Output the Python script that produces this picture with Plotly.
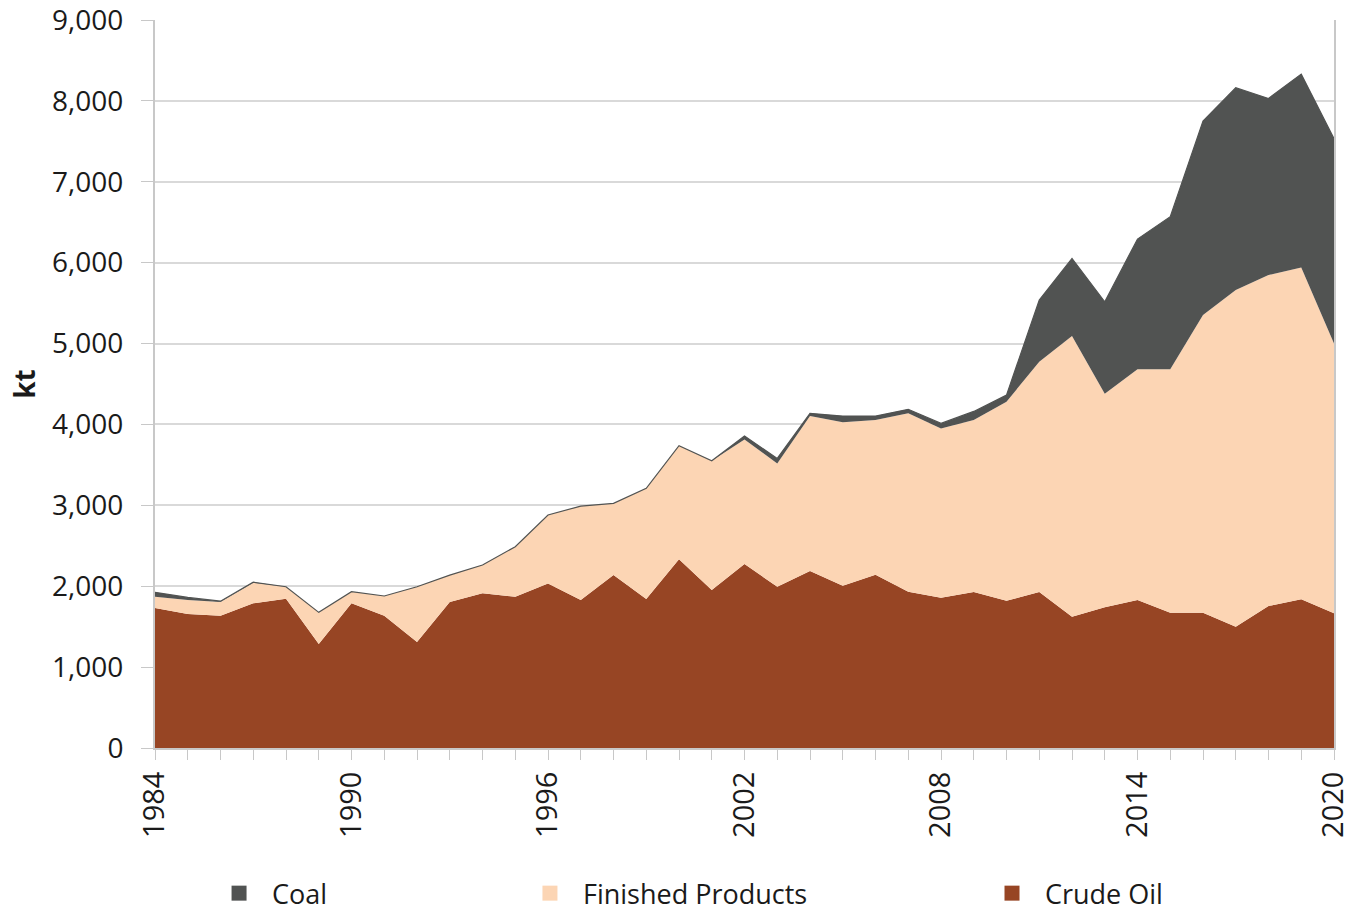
import plotly.graph_objects as go

years = list(range(1984, 2021))

crude_oil = [1730, 1656, 1635, 1789, 1846, 1286, 1789, 1636, 1310, 1805,
             1912, 1871, 2035, 1829, 2138, 1842, 2332, 1953, 2274, 1994,
             2188, 2006, 2143, 1932, 1858, 1928, 1821, 1928, 1623, 1739,
             1829, 1673, 1673, 1500, 1755, 1838, 1665]

finished_products = [141, 174, 170, 255, 148, 391, 143, 243, 684, 333,
                     350, 617, 845, 1162, 886, 1368, 1405, 1598, 1541, 1524,
                     1916, 2020, 1911, 2205, 2093, 2126, 2460, 2847, 3470, 2640,
                     2852, 3008, 3679, 4161, 4092, 4103, 3337]

coal = [53, 32, 10, 6, 0, 0, 0, 0, 0, 0,
        0, 0, 0, 0, 0, 0, 0, 0, 42, 62,
        33, 78, 50, 50, 62, 107, 82, 763, 960, 1138,
        1611, 1887, 2398, 2501, 2183, 2390, 2531]

series_names = ["Crude Oil", "Finished Products", "Coal"]
colors = {"Crude Oil": "#974524", "Finished Products": "#FCD5B4", "Coal": "#515352"}

tick_years = years
tick_labels = [str(y) if (y - 1984) % 6 == 0 else "" for y in years]
y_ticks = [0, 1000, 2000, 3000, 4000, 5000, 6000, 7000, 8000, 9000]

fig = go.Figure()

data = {"Crude Oil": crude_oil, "Finished Products": finished_products, "Coal": coal}
for name in series_names:
    fig.add_trace(go.Scatter(
        x=years, y=data[name], name=name, stackgroup="one", mode="lines",
        line=dict(width=1.2 if name == "Coal" else 0, color=colors[name]),
        fillcolor=colors[name], showlegend=False, hoverinfo="x+y+name"))

# legend entries (one legend per item, positioned like the reference)
legend_pos = {"Coal": ("legend", 0.0433), "Finished Products": ("legend2", 0.3070),
              "Crude Oil": ("legend3", 0.6989)}
for name in ["Coal", "Finished Products", "Crude Oil"]:
    lg, _ = legend_pos[name]
    fig.add_trace(go.Scatter(
        x=[None], y=[None], name=name, mode="markers",
        marker=dict(symbol="square", size=15, color=colors[name]),
        legend=lg, showlegend=True))

leg_common = dict(y=-0.2, yanchor="middle", xanchor="left", orientation="h",
                  bgcolor="rgba(0,0,0,0)", itemwidth=56,
                  font=dict(family="Open Sans", size=27, color="#1a1a1a"))

fig.update_layout(
    width=1346, height=908,
    margin=dict(l=155, r=12, t=20, b=160, autoexpand=False),
    paper_bgcolor="white", plot_bgcolor="white",
    legend=dict(x=legend_pos["Coal"][1], **leg_common),
    legend2=dict(x=legend_pos["Finished Products"][1], **leg_common),
    legend3=dict(x=legend_pos["Crude Oil"][1], **leg_common),
    xaxis=dict(range=[1984, 2020], tickmode="array", tickvals=tick_years,
               ticktext=tick_labels, tickangle=-90, ticks="outside", ticklen=10,
               tickcolor="#C8C8C8", showline=True, linecolor="#C8C8C8", linewidth=2,
               showgrid=False, zeroline=False, automargin=False,
               ticklabeloverflow="allow",
               tickfont=dict(family="Open Sans", size=29, color="#1a1a1a")),
    yaxis=dict(range=[0, 9000], tickmode="array", tickvals=y_ticks,
               tickformat=",", ticks="outside",
               ticklen=12, tickcolor="#C8C8C8", showline=True, linecolor="#C8C8C8",
               linewidth=2, mirror=True, gridcolor="#D9D9D9", gridwidth=2,
               zeroline=False, automargin=False, ticklabelstandoff=12,
               ticklabeloverflow="allow",
               tickfont=dict(family="Open Sans", size=28, color="#1a1a1a"),
               title=dict(text="<b>kt</b>", standoff=8,
                          font=dict(family="Open Sans", size=28, color="#1a1a1a"))),
)

# remove the page's default body margin so the figure fills the window exactly
fig.write_html("out.html",
               config={"displayModeBar": False},
               post_script="document.body.style.margin='0';"
                           "document.body.style.overflow='hidden';")
